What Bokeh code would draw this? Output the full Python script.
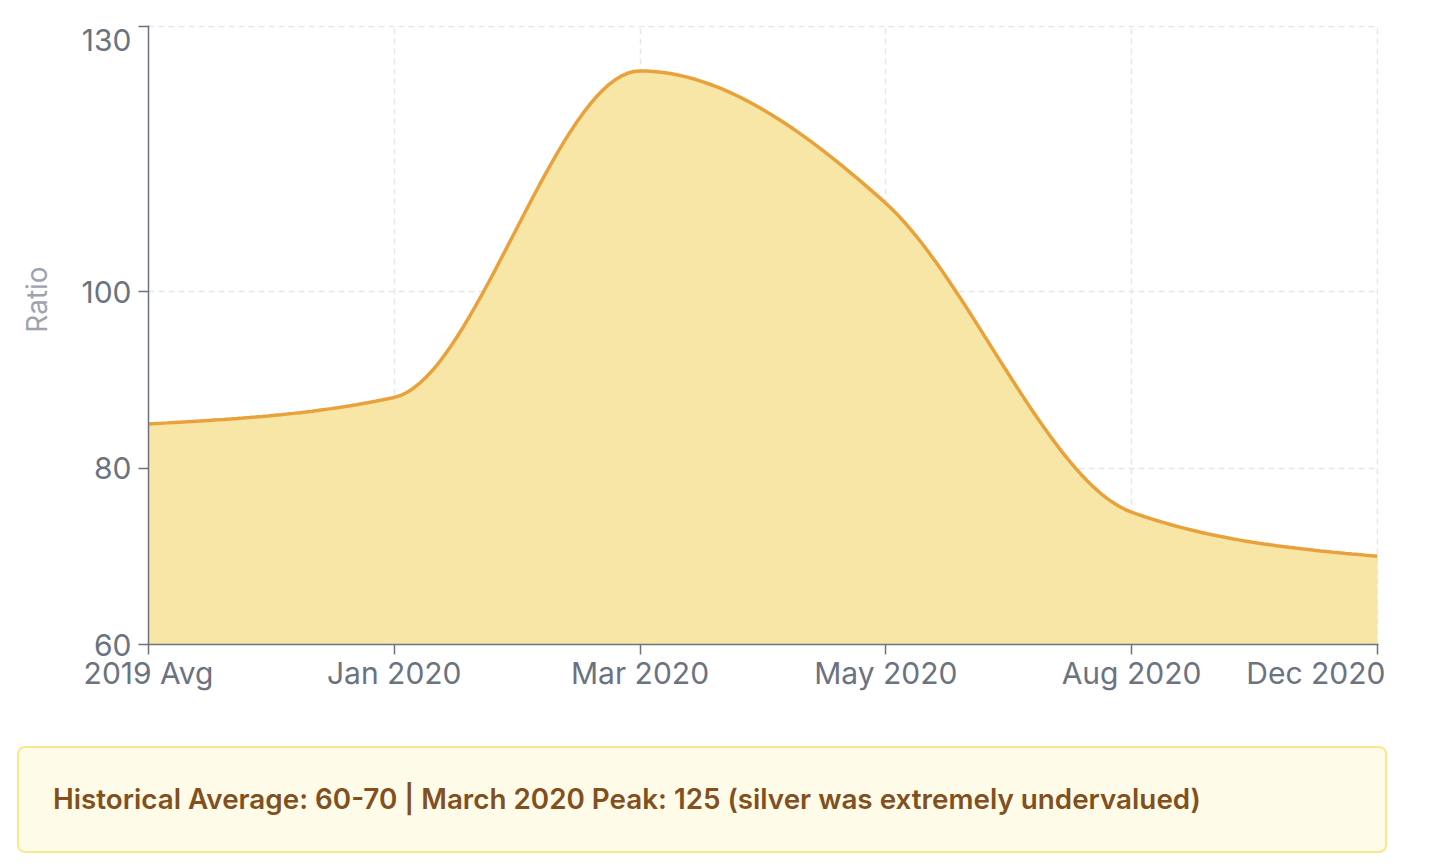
import numpy as np
from bokeh.plotting import figure
from bokeh.models import FixedTicker, Div, ColumnDataSource
from bokeh.layouts import column
from bokeh.embed import file_html
from bokeh.resources import INLINE

# ---- data ----
categories = ["2019 Avg", "Jan 2020", "Mar 2020", "May 2020", "Aug 2020", "Dec 2020"]
ratio = [85, 88, 125, 110, 75, 70]
y_ticks = [60, 80, 100, 130]
y_min, y_max = 60, 130
note_text = "Historical Average: 60-70 | March 2020 Peak: 125 (silver was extremely undervalued)"


def monotone_curve(xv, yv, steps=40):
    """Monotone cubic (d3 curveMonotoneX) rendering of the data points."""
    x = np.asarray(xv, float)
    y = np.asarray(yv, float)
    n = len(x)
    h = np.diff(x)
    s = np.diff(y) / h
    t = np.zeros(n)
    for i in range(1, n - 1):
        p = (s[i - 1] * h[i] + s[i] * h[i - 1]) / (h[i - 1] + h[i])
        t[i] = (np.sign(s[i - 1]) + np.sign(s[i])) * min(abs(s[i - 1]), abs(s[i]), 0.5 * abs(p))
    t[0] = (3 * s[0] - t[1]) / 2
    t[-1] = (3 * s[-1] - t[-2]) / 2
    px, py = [], []
    u = np.linspace(0, 1, steps)
    for i in range(n - 1):
        dx = h[i] / 3
        P0 = (x[i], y[i])
        P1 = (x[i] + dx, y[i] + dx * t[i])
        P2 = (x[i + 1] - dx, y[i + 1] - dx * t[i + 1])
        P3 = (x[i + 1], y[i + 1])
        a = (1 - u) ** 3
        b = 3 * (1 - u) ** 2 * u
        c = 3 * (1 - u) * u ** 2
        d = u ** 3
        cx = a * P0[0] + b * P1[0] + c * P2[0] + d * P3[0]
        cy = a * P0[1] + b * P1[1] + c * P2[1] + d * P3[1]
        if i > 0:
            cx, cy = cx[1:], cy[1:]
        px.extend(cx)
        py.extend(cy)
    return np.array(px), np.array(py)


xi = list(range(len(categories)))
cx, cy = monotone_curve(xi, ratio)
src = ColumnDataSource(dict(x=cx, y=cy, base=np.full(len(cx), y_min)))

TICK_COLOR = "#6b7280"
FONT = "Inter"

# ranges padded by ~1px so the edge grid lines stay visible
p = figure(width=1385, height=732, output_backend="svg", toolbar_location=None,
           x_range=(0, (len(categories) - 1) * 1.001), y_range=(y_min, y_max + 0.15),
           min_border_left=148, min_border_right=7, min_border_top=25, min_border_bottom=88)
p.outline_line_color = None
p.background_fill_color = "white"
p.border_fill_color = "white"

# grid (drawn below the area)
p.xgrid.ticker = FixedTicker(ticks=xi)
p.ygrid.ticker = FixedTicker(ticks=y_ticks)
for g in (p.xgrid, p.ygrid):
    g.grid_line_color = "#e5e7eb"
    g.grid_line_width = 1.5
    g.grid_line_dash = "6 4"

p.varea(x="x", y1="base", y2="y", source=src, fill_color="#f7e4a0", fill_alpha=0.93)
p.line(x="x", y="y", source=src, line_color="#e9a23b", line_width=3.5)

# axes
p.xaxis.ticker = FixedTicker(ticks=xi)
p.xaxis.major_label_overrides = {i: c for i, c in enumerate(categories)}
p.yaxis.ticker = FixedTicker(ticks=y_ticks)
p.yaxis.major_label_overrides = {y_max: "\n" + str(y_max)}
p.yaxis.major_label_text_line_height = 0.6
for ax in (p.xaxis, p.yaxis):
    ax.axis_line_color = TICK_COLOR
    ax.axis_line_width = 1.5
    ax.major_tick_line_color = TICK_COLOR
    ax.major_tick_line_width = 1.5
    ax.major_tick_out = 10
    ax.major_tick_in = 0
    ax.minor_tick_line_color = None
    ax.major_label_text_color = TICK_COLOR
    ax.major_label_text_font = FONT
    ax.major_label_text_font_size = "30px"
p.xaxis.major_label_standoff = 0
p.yaxis.major_label_standoff = 7
p.yaxis.axis_label = "\u00a0" * 9 + "Ratio"
p.yaxis.axis_label_text_font = FONT
p.yaxis.axis_label_text_font_size = "28px"
p.yaxis.axis_label_text_font_style = "normal"
p.yaxis.axis_label_text_color = "#9ca3af"
p.yaxis.axis_label_standoff = 24

note_html = (
    '<div style="box-sizing:border-box;width:1370px;height:107px;margin:9px 0 0 12px;'
    'background:#fefce8;border:2px solid #fde68a;border-radius:8px;display:flex;'
    'align-items:center;padding:0 34px;font-family:Inter,sans-serif;font-weight:600;'
    'font-size:27.8px;color:#82501e;white-space:nowrap;">' + note_text + '</div>'
)
note = Div(text=note_html, width=1413, height=125)

layout = column(p, note, spacing=0)
open("out.html", "w").write(file_html(layout, INLINE))
